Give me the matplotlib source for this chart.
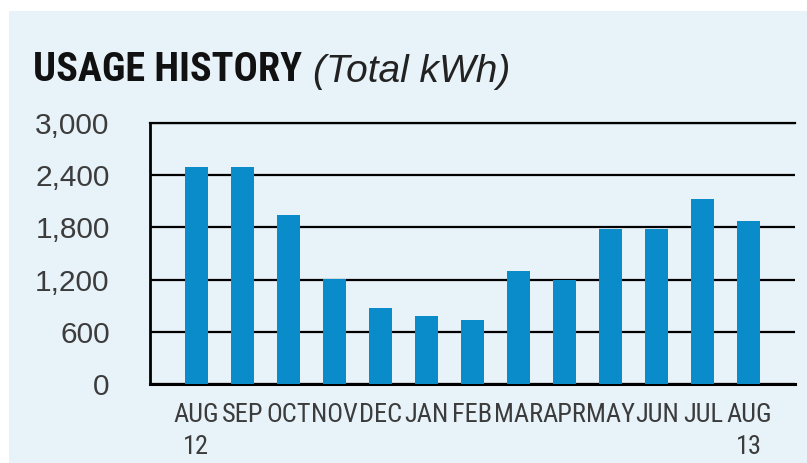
import matplotlib
matplotlib.use('Agg')
import matplotlib.pyplot as plt
from matplotlib import font_manager
from matplotlib.patches import Rectangle
import numpy as np

# data
months = ["AUG\n12", "SEP", "OCT", "NOV", "DEC", "JAN", "FEB", "MAR", "APR", "MAY", "JUN", "JUL", "AUG\n13"]
usage = [2500, 2500, 1940, 1210, 875, 780, 740, 1300, 1200, 1780, 1780, 2130, 1870]
yticks = [0, 600, 1200, 1800, 2400, 3000]

bg = '#e7f2f9'
bar_col = '#0a8bca'
txt_col = '#3c3c3c'


def find_narrow(bold=False):
    # look for any condensed / narrow face among the installed fonts
    prefs = ['liberation sans narrow', 'roboto condensed', 'open sans condensed',
             'noto sans condensed', 'dejavu sans condensed', 'condensed', 'narrow']
    fonts = font_manager.fontManager.ttflist
    for p in prefs:
        for f in fonts:
            key = (f.name + ' ' + f.fname).lower()
            isbold = f.weight in ('bold', 700, 'heavy', 800) or 'bold' in f.fname.lower()
            if p in key and isbold == bold and f.style == 'normal' \
                    and 'semi' not in f.fname.lower() and 'extra' not in f.fname.lower():
                return font_manager.FontProperties(fname=f.fname)
    return font_manager.FontProperties(family='DejaVu Sans', stretch='condensed',
                                       weight='bold' if bold else 'normal')


fp_reg = find_narrow(False)
fp_bold = find_narrow(True)

fig = plt.figure(figsize=(8.07, 4.63), dpi=100)
fig.patch.set_facecolor('white')
fig.patches.append(Rectangle((9/807, 0), 1, 1 - 11/463, transform=fig.transFigure,
                             facecolor=bg, edgecolor='none', zorder=-10))

ax = fig.add_axes([150/807, 1 - 384/463, 645/807, 261/463])
ax.set_facecolor(bg)

x = np.arange(len(months))
ax.bar(x, usage, width=0.5, color=bar_col, zorder=3)

ax.set_xlim(-1, 13)
ax.set_ylim(0, 3000)
ax.set_yticks(yticks)
ax.set_yticklabels([f"{v:,}" for v in yticks], fontsize=21.5, color=txt_col,
                   family='Liberation Sans')
ax.set_xticks(x)
ax.set_xticklabels(months, color=txt_col, linespacing=1.4)
for lab in ax.get_xticklabels():
    lab.set_fontproperties(fp_reg)
    lab.set_fontsize(19)
ax.tick_params(axis='y', length=0, pad=29)
ax.tick_params(axis='x', length=0, pad=14)

ax.yaxis.grid(True, color='black', lw=1.6)
ax.set_axisbelow(True)
ax.spines['right'].set_visible(False)
for s in ['top', 'left', 'bottom']:
    ax.spines[s].set_color('black')
ax.spines['top'].set_linewidth(1.6)
ax.spines['left'].set_linewidth(2)
ax.spines['bottom'].set_linewidth(2.2)

# title
t = fig.text(33/807, 1 - 81/463, "USAGE HISTORY", color='#111111',
             va='baseline', ha='left')
t.set_fontproperties(fp_bold)
t.set_fontsize(29)
fig.text(313/807, 1 - 82/463, "(Total kWh)", fontsize=28, style='italic',
         family='Liberation Sans', color='#222222', va='baseline', ha='left')

plt.savefig('out.png', dpi=100, facecolor=fig.get_facecolor())
